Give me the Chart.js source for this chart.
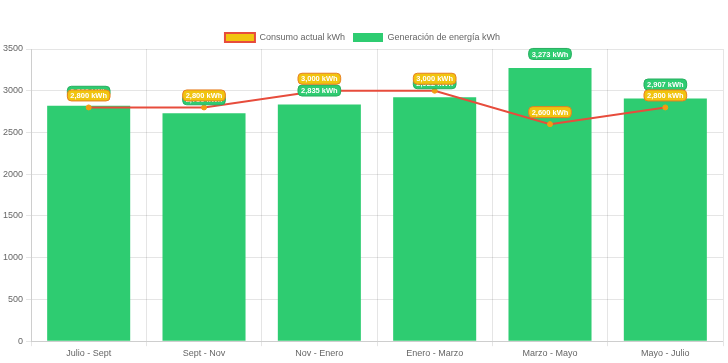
<!DOCTYPE html>
<html>
<head>
<meta charset="utf-8">
<script src="https://cdn.jsdelivr.net/npm/chart.js@4.4.1/dist/chart.umd.min.js"></script>
<style>
html,body{margin:0;padding:0;background:#fff;}
#wrap{width:728px;height:363px;position:relative;}
</style>
</head>
<body>
<div id="wrap"><canvas id="c"></canvas></div>
<script>
const categories = ["Julio - Sept", "Sept - Nov", "Nov - Enero", "Enero - Marzo", "Marzo - Mayo", "Mayo - Julio"];
const consumo = [2800, 2800, 3000, 3000, 2600, 2800];
const generacion = [2820, 2730, 2835, 2922, 3273, 2907];
const yTicks = [0, 500, 1000, 1500, 2000, 2500, 3000, 3500];

Chart.defaults.font.family = "'Liberation Sans', Arial, Helvetica, sans-serif";
Chart.defaults.font.size = 9;
Chart.defaults.color = '#666';

function fmt(v){ return v.toLocaleString('en-US') + ' kWh'; }

function roundRect(ctx, x, y, w, h, r){
  ctx.beginPath();
  ctx.moveTo(x+r, y);
  ctx.lineTo(x+w-r, y);
  ctx.arcTo(x+w, y, x+w, y+r, r);
  ctx.lineTo(x+w, y+h-r);
  ctx.arcTo(x+w, y+h, x+w-r, y+h, r);
  ctx.lineTo(x+r, y+h);
  ctx.arcTo(x, y+h, x, y+h-r, r);
  ctx.lineTo(x, y+r);
  ctx.arcTo(x, y, x+r, y, r);
  ctx.closePath();
}

const legendShrink = {
  id: 'legendShrink',
  beforeLayout(chart){
    const lg = chart.legend;
    if (lg && !lg._patched){
      const fit = lg.fit;
      lg.fit = function(){ fit.call(this); this.height -= 3; };
      lg._patched = true;
    }
  }
};

const labelPlugin = {
  id: 'valueLabels',
  afterDatasetsDraw(chart){
    const ctx = chart.ctx;
    const order = [1, 0];
    ctx.save();
    ctx.font = "bold 7.5px 'Liberation Sans', Arial, sans-serif";
    ctx.textAlign = 'center';
    ctx.textBaseline = 'middle';
    order.forEach(di => {
      const meta = chart.getDatasetMeta(di);
      const ds = chart.data.datasets[di];
      meta.data.forEach((el, i) => {
        const txt = fmt(ds.data[i]);
        const w = ctx.measureText(txt).width + 6;
        const h = 11;
        const cy = di === 1 ? el.y - 14 : el.y - 12;
        const cx = el.x;
        roundRect(ctx, cx - w/2, cy - h/2, w, h, 4);
        ctx.fillStyle = ds.labelBg;
        ctx.fill();
        ctx.lineWidth = 1;
        ctx.strokeStyle = ds.labelBorder;
        ctx.stroke();
        ctx.fillStyle = '#fff';
        ctx.fillText(txt, cx, cy + 0.5);
      });
    });
    ctx.restore();
  }
};

new Chart(document.getElementById('c'), {
  type: 'bar',
  data: {
    labels: categories,
    datasets: [
      {
        type: 'line',
        label: 'Consumo actual kWh',
        data: consumo,
        borderColor: '#e74c3c',
        backgroundColor: '#f1c40f',
        borderWidth: 2,
        pointRadius: 2.5,
        pointBackgroundColor: '#f39c12',
        pointBorderColor: '#f39c12',
        pointBorderWidth: 1,
        tension: 0,
        fill: false,
        order: 0,
        labelBg: '#f1c40f',
        labelBorder: '#e67e22'
      },
      {
        type: 'bar',
        label: 'Generación de energía kWh',
        data: generacion,
        backgroundColor: '#2ecc71',
        borderColor: '#2ecc71',
        borderWidth: 0,
        order: 1,
        labelBg: '#2ecc71',
        labelBorder: '#27ae60'
      }
    ]
  },
  options: {
    responsive: true,
    maintainAspectRatio: false,
    animation: false,
    layout: { padding: { top: 25, left: 0, right: 3, bottom: 2 } },
    plugins: {
      legend: {
        position: 'top',
        labels: { boxWidth: 30, boxHeight: 9, padding: 8, color: '#666' }
      },
      tooltip: { enabled: false }
    },
    scales: {
      x: {
        grid: { color: 'rgba(0,0,0,0.1)', tickLength: 5, offset: true },
        ticks: { padding: 2, color: '#666' }
      },
      y: {
        min: 0,
        max: 3500,
        afterBuildTicks(axis){ axis.ticks = yTicks.map(v => ({ value: v })); },
        grid: { color: 'rgba(0,0,0,0.1)', tickLength: 5 },
        ticks: { padding: 3, color: '#666', callback: v => String(v) }
      }
    }
  },
  plugins: [legendShrink, labelPlugin]
});
</script>
</body>
</html>
